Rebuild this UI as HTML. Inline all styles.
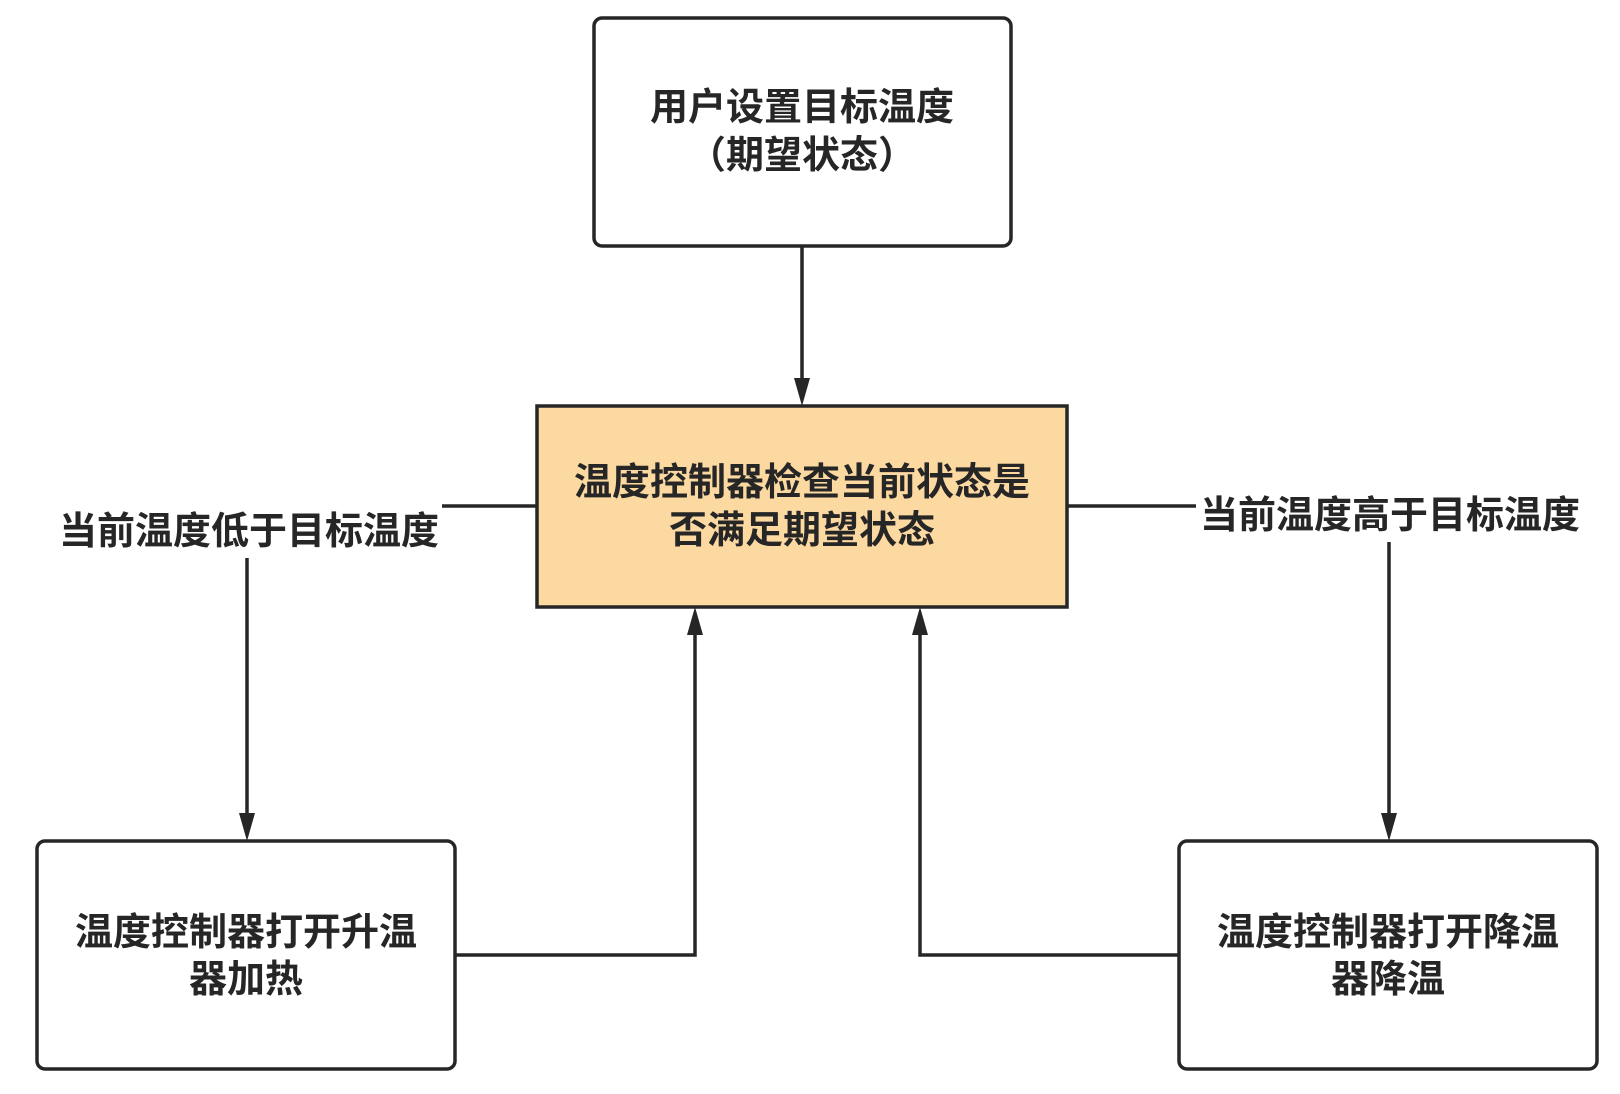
<!DOCTYPE html>
<html><head><meta charset="utf-8"><style>
html,body{margin:0;padding:0;background:#fff;}
svg{display:block;}
text{font-family:"Liberation Sans","Noto Sans CJK SC",sans-serif;font-weight:bold;font-size:38px;fill:#262626;text-anchor:middle;}
</style></head><body>
<svg width="1620" height="1094" viewBox="0 0 1620 1094" xmlns="http://www.w3.org/2000/svg">
<g stroke="#262626" stroke-width="3.5" fill="none">
<rect x="594" y="18" width="417" height="228" rx="8" fill="#fff"/>
<rect x="537" y="406" width="530" height="201" fill="#FDD9A2"/>
<rect x="37" y="841" width="418" height="228" rx="8" fill="#fff"/>
<rect x="1179" y="841" width="418" height="228" rx="8" fill="#fff"/>
<line x1="802" y1="246" x2="802" y2="380"/>
<polyline points="537,506 442,506"/>
<line x1="247" y1="558" x2="247" y2="815"/>
<polyline points="1067,506 1196,506"/>
<line x1="1389" y1="542" x2="1389" y2="815"/>
<polyline points="455,955 695,955 695,633"/>
<polyline points="1179,955 920,955 920,633"/>
</g>
<g fill="#262626">
<path d="M794,378 L810,378 L802,406 z"/>
<path d="M239,813 L255,813 L247,841 z"/>
<path d="M1381,813 L1397,813 L1389,841 z"/>
<path d="M687,635 L703,635 L695,607 z"/>
<path d="M912,635 L928,635 L920,607 z"/>
</g>
<text x="802" y="120">用户设置目标温度</text>
<text x="802" y="168">（期望状态）</text>
<text x="802" y="495">温度控制器检查当前状态是</text>
<text x="802" y="543">否满足期望状态</text>
<text x="249" y="544">当前温度低于目标温度</text>
<text x="1390" y="528">当前温度高于目标温度</text>
<text x="246" y="945">温度控制器打开升温</text>
<text x="246" y="992">器加热</text>
<text x="1388" y="945">温度控制器打开降温</text>
<text x="1388" y="992">器降温</text>
</svg>
</body></html>
